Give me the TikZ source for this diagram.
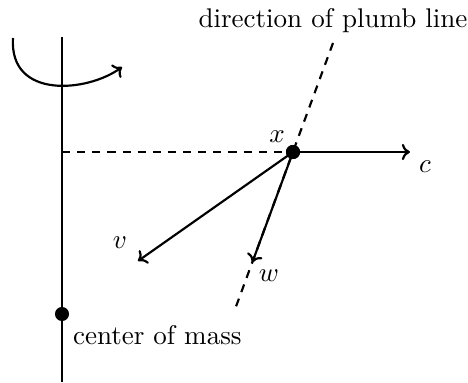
\documentclass[tikz,border=0pt]{standalone}
\usepackage{tikz}
\usetikzlibrary{arrows.meta,positioning,calc}

\begin{document}
\begin{tikzpicture}[
  x=0.37pt, y=-0.37pt,
  every path/.style={thick},
  dot/.style={circle, fill=black, inner sep=0pt, minimum size=5.2pt},
  vec/.style={draw, -{To[length=3pt,width=6pt]}},
  plumb/.style={draw, dash pattern=on 3pt off 2.6pt},
  lbl/.style={inner sep=0pt}
]
\useasboundingbox (0,0) rectangle (468,382);
% rotation axis
\coordinate (axtop) at (62,37);
\coordinate (axbot) at (62,382);
\node [dot] (cm) at (62,314) {};
\draw (axtop) -- (axbot);
\node [lbl, anchor=west] (cmlbl) at (72,335) {center of mass};
% rotation arrow
\coordinate (rotA) at (13,38);
\coordinate (rotB) at (122,67);
\draw [-{To[length=3pt,width=6pt]}] (rotA) .. controls (9,100) and (88,92) .. (rotB);
% plumb line
\node [dot] (x) at (293,152) {};
\coordinate (ptop) at (333,43);
\coordinate (pbot) at (234,312);
\draw [plumb] (ptop) -- (pbot);
\node [lbl] (plbl) at (333,21) {direction of plumb line};
% horizontal through x
\coordinate (hx) at (62,152);
\draw [plumb] (hx) -- (x);
% vectors
\coordinate (cend) at (410,152);
\coordinate (vend) at (138,261);
\coordinate (wend) at ($(x)!0.69!(pbot)$);
\draw [vec] (x.center) -- (cend);
\draw [vec] (x.center) -- (vend);
\draw [vec] (x.center) -- (wend);
\node [dot] at (x) {};
\node [lbl] (xl) at (277,137) {$x$};
\node [lbl] (cl) at (425,167) {$c$};
\node [lbl] (vl) at (120,243) {$v$};
\node [lbl] (wl) at (269,276) {$w$};
\end{tikzpicture}
\end{document}
